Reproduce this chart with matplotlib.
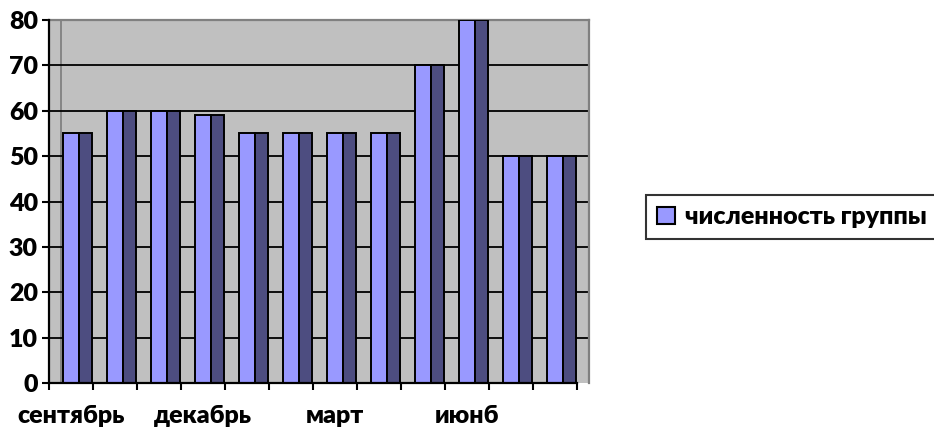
import matplotlib
matplotlib.use("Agg")
import matplotlib.pyplot as plt
from matplotlib.patches import Patch

# Monthly group size
months = ["сентябрь", "октябрь", "ноябрь", "декабрь", "январь", "февраль",
          "март", "апрель", "май", "июнб", "июль", "август"]
group_size = [55, 60, 60, 59, 55, 55, 55, 55, 70, 80, 50, 50]
series_name = "численность группы"
y_ticks = [0, 10, 20, 30, 40, 50, 60, 70, 80]

FRONT = "#9999FF"
SIDE = "#4D4D80"
WALL = "#C0C0C0"
BORDER = "#808080"
WEIGHT = 800

plt.rcParams["font.family"] = ["Lato", "DejaVu Sans"]
plt.rcParams["font.weight"] = WEIGHT

W, H = 934, 430
fig = plt.figure(figsize=(W / 100, H / 100), dpi=100)
ax = fig.add_axes([49 / W, 1 - 383 / H, (589 - 49) / W, (383 - 20) / H])

n = len(months)
depth = 0.27  # horizontal shift of the back wall (category units)
ax.set_xlim(0, n + depth)
ax.set_ylim(0, 80)
ax.set_facecolor(WALL)

# wall corner and horizontal gridlines
ax.axvline(depth, color=BORDER, lw=1.3, zorder=1)
for v in y_ticks[1:-1]:
    ax.axhline(v, color="black", lw=1.3, zorder=1)

# 3D-looking columns: lit front face and shaded side face
x0 = [i for i in range(n)]
ax.bar([x + 0.31 for x in x0], group_size, width=0.37, align="edge",
       color=FRONT, edgecolor="black", linewidth=1.4, zorder=3)
ax.bar([x + 0.68 for x in x0], group_size, width=0.30, align="edge",
       color=SIDE, edgecolor="black", linewidth=1.4, zorder=3)

# spines
for s in ("top", "right"):
    ax.spines[s].set_color(BORDER)
    ax.spines[s].set_linewidth(1.6)
ax.spines["left"].set_color("black")
ax.spines["left"].set_linewidth(1.6)
ax.spines["bottom"].set_color("black")
ax.spines["bottom"].set_linewidth(1.6)
ax.spines["bottom"].set_bounds(0, n)
ax.spines["left"].set_zorder(4)
ax.spines["bottom"].set_zorder(4)

# y axis
ax.set_yticks(y_ticks)
ax.set_yticklabels([str(v) for v in y_ticks], fontsize=18, fontweight=WEIGHT)
ax.tick_params(axis="y", direction="out", length=5, width=1.5, pad=3)

# x axis: boundary ticks, labels on every third month
ax.set_xticks(range(n + 1))
ax.set_xticklabels([])
ax.set_xticks([i + 0.5 for i in range(0, n, 3)], minor=True)
ax.set_xticklabels(months[::3], minor=True, fontsize=18, fontweight=WEIGHT)
ax.tick_params(axis="x", which="major", direction="out", length=5, width=1.5)
ax.tick_params(axis="x", which="minor", length=0, pad=16)

leg = fig.legend(handles=[Patch(facecolor=FRONT, edgecolor="black", linewidth=1.5, label=series_name)],
                 loc="upper left", bbox_to_anchor=(646 / W, 1 - 195 / H),
                 bbox_transform=fig.transFigure, frameon=True, fancybox=False,
                 prop={"size": 18, "weight": WEIGHT}, handlelength=0.72, handleheight=0.72,
                 handletextpad=0.38, borderpad=0.45, borderaxespad=0)
leg.get_frame().set_edgecolor("black")
leg.get_frame().set_linewidth(1.5)

fig.savefig("out.png", dpi=100)
